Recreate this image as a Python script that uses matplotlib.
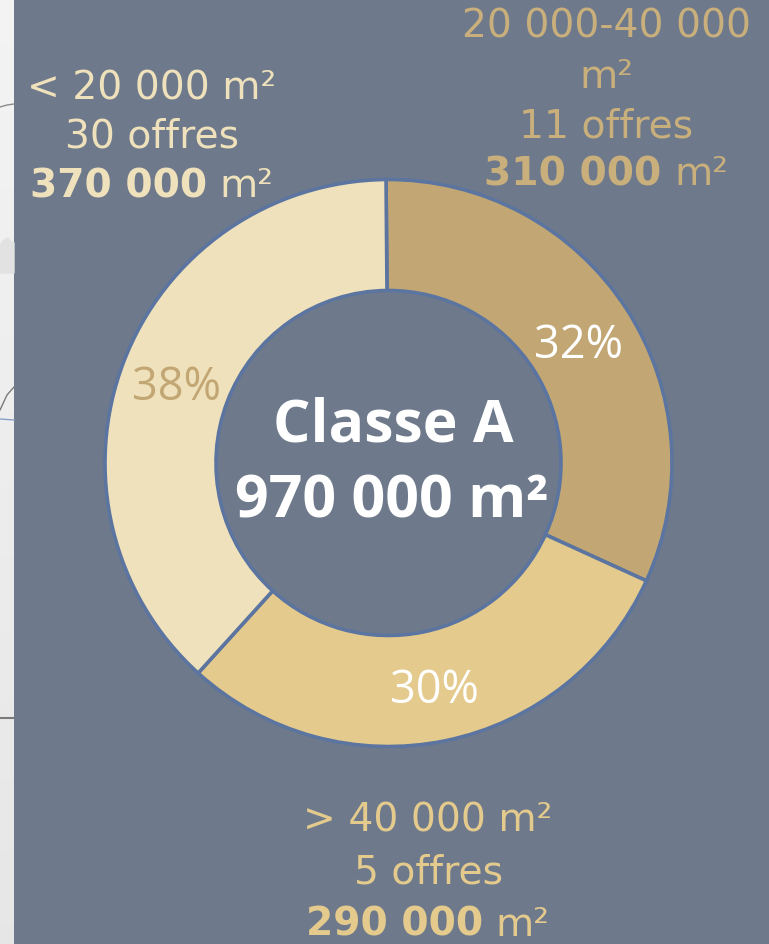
import matplotlib
matplotlib.use("Agg")
import matplotlib.pyplot as plt
import numpy as np

# ---------------- data ----------------
categories = ["20 000-40 000 m²", "> 40 000 m²", "< 20 000 m²"]
surfaces = [310000, 290000, 370000]          # m²
offres = [11, 5, 30]
surface_labels = ["310 000", "290 000", "370 000"]
title = "Classe A"
total_label = "970 000 m²"

# ---------------- style ----------------
W, H = 769, 944
BG = "#6e7a8b"
SLICE_COLORS = ["#c2a774", "#e4cb8d", "#efe1bb"]
EDGE = "#5b74a0"
PCT_COLORS = ["white", "white", "#c2a774"]
LABEL_COLORS = ["#c9af7c", "#e4cb8d", "#efe1bb"]
LABEL_FONT = "DejaVu Sans"
MAIN_FONT = "Open Sans"

fig = plt.figure(figsize=(W / 100, H / 100), dpi=100)
fig.patch.set_facecolor(BG)
ax = fig.add_axes([0, 0, 1, 1])
ax.set_facecolor(BG)

cx, cy = 388.5, H - 463
R_OUT, R_IN = 283.5, 172.5

wedges, _, autotexts = ax.pie(
    surfaces, colors=SLICE_COLORS, startangle=90.5, counterclock=False,
    radius=R_OUT, center=(cx, cy),
    wedgeprops=dict(width=R_OUT - R_IN, edgecolor=EDGE, linewidth=2.6),
    autopct="%.0f%%", pctdistance=0.80,
    textprops=dict(fontsize=32.5, family=MAIN_FONT),
)
for t, c in zip(autotexts, PCT_COLORS):
    t.set_color(c)
    x, y = t.get_position()
    t.set_position((x, y - 6))

ax.set_xlim(0, W)
ax.set_ylim(0, H)
ax.set_aspect("equal")
ax.axis("off")

# left strip (screenshot edge)
grad = np.linspace(0, 1, 200).reshape(-1, 1)
ax.imshow(np.dstack([0.955 - 0.05 * grad] * 3), extent=(0, 14, 0, H),
          origin="upper", aspect="auto", zorder=0)
ax.plot([0, 7, 14], [H - 107, H - 105, H - 104], color="#8a8a8a", lw=1, zorder=1)
ax.fill([0, 4, 8, 11, 14, 14, 0], [H - 245, H - 240, H - 238, H - 242, H - 243, H - 273, H - 273],
        color="#e2e2e2", zorder=1)
ax.plot([0, 7, 14], [H - 410, H - 395, H - 387], color="#7a7a7a", lw=1, zorder=1)
ax.plot([0, 14], [H - 419, H - 420], color="#8aa0c8", lw=1, zorder=1)
ax.plot([0, 14], [H - 718, H - 718], color="#7a7a7a", lw=1.5, zorder=1)

fig.canvas.draw()
renderer = fig.canvas.get_renderer()


def text_width(s, size, weight, family):
    t = ax.text(0, 0, s, fontsize=size, fontweight=weight, family=family)
    w = t.get_window_extent(renderer).width
    t.remove()
    return w


def mixed_line(x, y_top, parts, size, color, family=LABEL_FONT):
    """parts: list of (text, weight); drawn centred at x, baseline at y_top (pixels from top)."""
    space = text_width("0 0", size, "normal", family) - text_width("00", size, "normal", family)
    widths = [text_width(s, size, w, family) for s, w in parts]
    total = sum(widths) + space * (len(parts) - 1)
    x0 = x - total / 2
    for (s, w), wd in zip(parts, widths):
        ax.text(x0, H - y_top, s, fontsize=size, fontweight=w, color=color,
                family=family, ha="left", va="baseline")
        x0 += wd + space


LS = 28.3
# top-right label: 20 000-40 000 m²
mixed_line(606, 38, [("20 000-40 000", "normal")], LS, LABEL_COLORS[0])
mixed_line(606, 88, [("m²", "normal")], LS, LABEL_COLORS[0])
mixed_line(606, 137, [(f"{offres[0]} offres", "normal")], LS, LABEL_COLORS[0])
mixed_line(606, 185, [(surface_labels[0], "bold"), ("m²", "normal")], LS, LABEL_COLORS[0])

# bottom label: > 40 000 m²
mixed_line(428, 832, [(categories[1], "normal")], LS, LABEL_COLORS[1])
mixed_line(428, 883, [(f"{offres[1]} offres", "normal")], LS, LABEL_COLORS[1])
mixed_line(428, 936, [(surface_labels[1], "bold"), ("m²", "normal")], LS, LABEL_COLORS[1])

# top-left label: < 20 000 m²
mixed_line(152, 100, [(categories[2], "normal")], LS, LABEL_COLORS[2])
mixed_line(152, 147, [(f"{offres[2]} offres", "normal")], LS, LABEL_COLORS[2])
mixed_line(152, 197, [(surface_labels[2], "bold"), ("m²", "normal")], LS, LABEL_COLORS[2])

# centre text
ax.text(393, H - 441, title, fontsize=42.5, fontweight="bold", color="white",
        family=MAIN_FONT, ha="center", va="baseline")
ax.text(392, H - 517, total_label, fontsize=42.5, fontweight="bold", color="white",
        family=MAIN_FONT, ha="center", va="baseline")

fig.savefig("out.png", dpi=100, facecolor=BG)
